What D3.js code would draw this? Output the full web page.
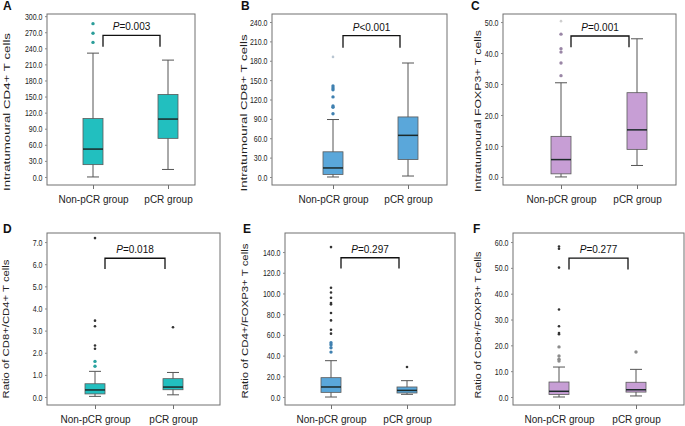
<!DOCTYPE html>
<html>
<head>
<meta charset="utf-8">
<script src="https://cdn.jsdelivr.net/npm/d3@7"></script>
<style>
  html, body { margin: 0; padding: 0; background: #fff; }
  svg { display: block; font-family: "Liberation Sans", Arial, sans-serif; }
</style>
</head>
<body>
<svg id="chart" width="685" height="426"></svg>
<script>
// ---------------- DATA ----------------
const groups = ["Non-pCR group", "pCR group"];
const panelLetters = ["A", "B", "C", "D", "E", "F"];
const yTitles = [
  "Intratumoural CD4+ T cells",
  "Intratumoural CD8+ T cells",
  "Intratumoural FOXP3+ T cells",
  "Ratio of CD8+/CD4+ T cells",
  "Ratio of CD4+/FOXP3+ T cells",
  "Ratio of CD8+/FOXP3+ T cells"
];
const pSign = ["=", "<", "=", "=", "=", "="];
const pValue = ["0.003", "0.001", "0.001", "0.018", "0.297", "0.277"];

// y-axis tick labels per panel
const ticksA = [0, 30, 60, 90, 120, 150, 180, 210, 240, 270, 300];
const ticksB = [0, 30, 60, 90, 120, 150, 180, 210, 240];
const ticksC = [0, 10, 20, 30, 40, 50];
const ticksD = [0, 1, 2, 3, 4, 5, 6, 7];
const ticksE = [0, 20, 40, 60, 80, 100, 120, 140];
const ticksF = [0, 10, 20, 30, 40, 50, 60];
const yTicks = [ticksA, ticksB, ticksC, ticksD, ticksE, ticksF];
// axis extents (value units)
const yDomains = [[-15, 304], [-12.4, 252.4], [-2.6, 52.6], [-0.36, 7.41], [-7.7, 158.4], [-3.1, 63.5]];

// box statistics [lower whisker, Q1, median, Q3, upper whisker] : [non-pCR, pCR]
const statsA = [[0, 23, 52, 109, 231], [14, 72, 108, 154, 218]];
const statsB = [[0, 4, 14, 39, 89], [1.5, 27, 64.5, 93, 176.5]];
const statsC = [[0, 1, 5.6, 13.1, 30.4], [3.7, 8.9, 15.2, 27.2, 44.6]];
const statsD = [[0.03, 0.14, 0.32, 0.6, 1.16], [0.1, 0.33, 0.45, 0.83, 1.11]];
const statsE = [[0, 4.5, 9.7, 18.7, 35.1], [2.6, 3.9, 6.4, 9.7, 15.8]];
const statsF = [[0, 1.0, 2.2, 5.8, 11.6], [0.4, 1.9, 2.8, 5.7, 10.7]];
const boxStats = [statsA, statsB, statsC, statsD, statsE, statsF];

// outliers : [non-pCR, pCR]
const mildA = [[251, 268, 286], []];
const mildB = [[98, 108, 110, 124, 135, 138, 141], []];
const mildC = [[32.7, 36.8, 40.3, 41.4, 46.1], []];
const mildD = [[1.39, 1.61], []];
const mildE = [[43.4, 47.6, 50.5, 52.5], []];
const mildF = [[13.9, 14.6, 15.9, 19.4], [17.4]];
const mildOutliers = [mildA, mildB, mildC, mildD, mildE, mildF];

const extremeA = [[], []];
const extremeB = [[186], []];
const extremeC = [[50.3], []];
const extremeD = [[2.18, 2.33, 3.2, 3.45, 7.18], [3.15]];
const extremeE = [[61.2, 65, 74, 81.1, 89.5, 90.8, 95.9, 101, 105.6, 144.8], [29]];
const extremeF = [[24.3, 24.8, 27.4, 33.9, 50.1, 57.4, 58.3], []];
const extremeOutliers = [extremeA, extremeB, extremeC, extremeD, extremeE, extremeF];

// significance bracket [top, leg bottom] in value units
const brackets = [[264, 243], [219, 200], [45.5, 41.9], [6.27, 5.78], [134.5, 124], [53.8, 49.4]];

// ---------------- STYLE / LAYOUT ----------------
const teal = "#22bfbf", blue = "#5aa7da", purple = "#c79ed5";
const boxColors = [teal, blue, purple, teal, blue, purple];
const mildColors = ["#2b9d99", "#3f80b0", "#9a86a6", "#2aa3a0", "#3f80b0", "#8c8c8c"];
const extremeColors = ["#333", "#b9c6d2", "#cfcfcf", "#333", "#333", "#333"];

const layout = [
  { x0: 47,  x1: 195, y0: 14,  y1: 185, gx: [93, 168],  tx: 7,   ty: 112, tl: 158, lx: 3,   ly: 10 },
  { x0: 272, x1: 447, y0: 14,  y1: 185, gx: [333, 408], tx: 244, ty: 113, tl: 157, lx: 241, ly: 10 },
  { x0: 503, x1: 676, y0: 14,  y1: 185, gx: [561, 637], tx: 478, ty: 111, tl: 162, lx: 471, ly: 10 },
  { x0: 47,  x1: 220, y0: 233, y1: 405, gx: [95, 173],  tx: 6,   ty: 329, tl: 139, lx: 3,   ly: 233 },
  { x0: 285, x1: 455, y0: 233, y1: 405, gx: [331, 407], tx: 245, ty: 321, tl: 155, lx: 243, ly: 233 },
  { x0: 513, x1: 684, y0: 233, y1: 405, gx: [559, 636], tx: 478, ty: 325, tl: 147, lx: 473, ly: 233 }
];

const svg = d3.select("#chart");
const fmt = d3.format(".1f");
const boxW = 20, capW = 12;
const tickCondense = 0.74;

layout.forEach((L, i) => {
  const g = svg.append("g");
  const y = d3.scaleLinear().domain(yDomains[i]).range([L.y1, L.y0]);
  const x = d3.scalePoint().domain(groups).range(L.gx);

  // frame
  g.append("rect").attr("x", L.x0).attr("y", L.y0)
    .attr("width", L.x1 - L.x0).attr("height", L.y1 - L.y0)
    .attr("fill", "none").attr("stroke", "#707070").attr("stroke-width", 1);

  // y axis
  const ya = g.append("g").attr("transform", `translate(${L.x0},0)`)
    .call(d3.axisLeft(y).tickValues(yTicks[i]).tickFormat(fmt).tickSize(2).tickPadding(2.5));
  ya.select(".domain").remove();
  ya.selectAll("line").attr("stroke", "#8a8a8a");
  ya.selectAll("text").attr("font-size", 9.5).attr("fill", "#222")
    .attr("font-family", "Liberation Sans, Arial, sans-serif")
    .each(function () {
      const w = this.getComputedTextLength();
      d3.select(this).attr("textLength", w * tickCondense).attr("lengthAdjust", "spacingAndGlyphs");
    });

  // x axis
  const xa = g.append("g").attr("transform", `translate(0,${L.y1})`)
    .call(d3.axisBottom(x).tickSize(4).tickPadding(7));
  xa.select(".domain").remove();
  xa.selectAll("line").attr("stroke", "#707070");
  xa.selectAll("text").attr("font-size", 10).attr("fill", "#222")
    .attr("font-family", "Liberation Sans, Arial, sans-serif");

  // boxes
  groups.forEach((grp, j) => {
    const s = boxStats[i][j];
    const cx = x(grp);
    g.append("line").attr("x1", cx).attr("x2", cx).attr("y1", y(s[0])).attr("y2", y(s[4]))
      .attr("stroke", "#555").attr("stroke-width", 1);
    [s[0], s[4]].forEach(v => {
      g.append("line").attr("x1", cx - capW / 2).attr("x2", cx + capW / 2)
        .attr("y1", y(v)).attr("y2", y(v)).attr("stroke", "#555").attr("stroke-width", 1);
    });
    g.append("rect").attr("x", cx - boxW / 2).attr("y", y(s[3]))
      .attr("width", boxW).attr("height", Math.max(0.5, y(s[1]) - y(s[3])))
      .attr("fill", boxColors[i]).attr("stroke", "#5a5a5a").attr("stroke-width", 0.8);
    g.append("line").attr("x1", cx - boxW / 2).attr("x2", cx + boxW / 2)
      .attr("y1", y(s[2])).attr("y2", y(s[2])).attr("stroke", "#1c2a2a").attr("stroke-width", 1.5);

    mildOutliers[i][j].forEach(v => {
      g.append("circle").attr("cx", cx).attr("cy", y(v)).attr("r", 1.7)
        .attr("fill", mildColors[i]).attr("stroke", "none");
    });
    extremeOutliers[i][j].forEach(v => {
      g.append("circle").attr("cx", cx).attr("cy", y(v)).attr("r", 1.3)
        .attr("fill", extremeColors[i]).attr("stroke", "none");
    });
  });

  // bracket
  const bx1 = x(groups[0]) + 10, bx2 = x(groups[1]) - 8;
  const [bt, bb] = brackets[i];
  g.append("path")
    .attr("d", `M${bx1},${y(bb)}V${y(bt)}H${bx2}V${y(bb)}`)
    .attr("fill", "none").attr("stroke", "#111").attr("stroke-width", 1.3);
  const pt = g.append("text").attr("x", (bx1 + bx2) / 2).attr("y", y(bt) - 5)
    .attr("text-anchor", "middle").attr("font-size", 10).attr("fill", "#111");
  pt.append("tspan").attr("font-style", "italic").text("P");
  pt.append("tspan").text(pSign[i] + pValue[i]);

  // y title
  g.append("text")
    .attr("transform", `translate(${L.tx + 3},${L.ty}) rotate(-90)`)
    .attr("text-anchor", "middle").attr("font-size", 9.5).attr("fill", "#222")
    .attr("textLength", L.tl).attr("lengthAdjust", "spacingAndGlyphs")
    .text(yTitles[i]);

  // panel letter
  g.append("text").attr("x", L.lx).attr("y", L.ly)
    .attr("font-size", 12).attr("font-weight", "bold").attr("fill", "#111")
    .text(panelLetters[i]);
});
</script>
</body>
</html>
